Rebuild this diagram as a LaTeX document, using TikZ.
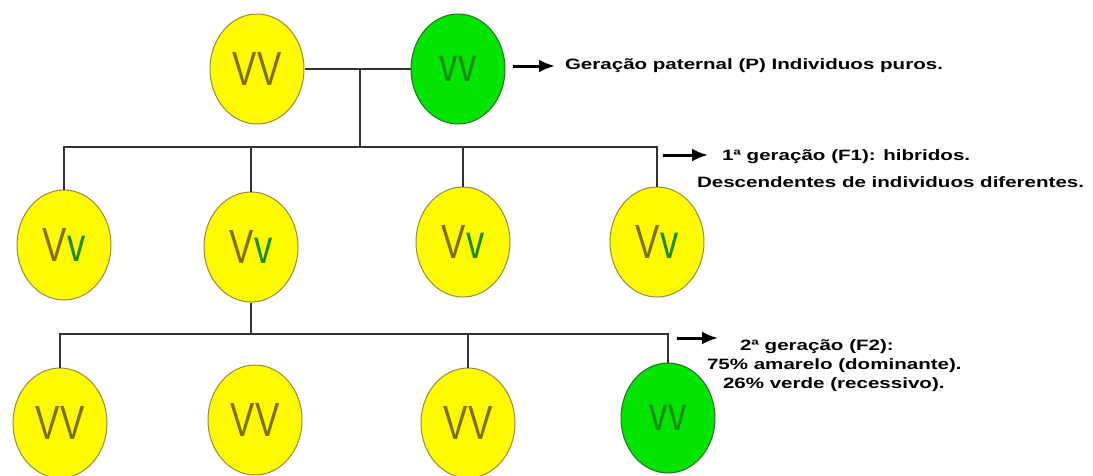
\documentclass[tikz,border=0pt]{standalone}
\usepackage{fontspec}
\usepackage{graphicx}
\setmainfont{Liberation Sans}
\usetikzlibrary{shapes.geometric,arrows.meta}
\definecolor{amarelo}{RGB}{255,250,0}
\definecolor{verde}{RGB}{0,228,0}
\definecolor{oliva}{RGB}{125,110,0}
\definecolor{verdeesc}{RGB}{25,140,15}
\definecolor{bordaam}{RGB}{150,140,60}
\definecolor{bordave}{RGB}{40,110,40}
\newcommand{\alelo}[1]{\scalebox{0.76}[1]{\fontsize{48}{48}\selectfont #1}}
\newcommand{\legenda}[1]{\scalebox{1.37}[1]{\fontsize{15}{15}\selectfont\bfseries #1}}

\begin{document}
\begin{tikzpicture}[x=1pt,y=-1pt,
	am/.style={ellipse,draw=bordaam,fill=amarelo,line width=1pt,minimum width=94pt,minimum height=110pt,inner sep=0pt},
	ve/.style={am,draw=bordave,fill=verde},
	lig/.style={draw=black!80,line width=2pt},
	seta/.style={line width=3pt,-{Latex[length=16pt,width=13pt]}},
	txt/.style={anchor=west,inner sep=0pt,outer sep=0pt}]
	\useasboundingbox (0,0) rectangle (1093,475);
	\node[am] (P1) at (257,69) {\alelo{\color{oliva}VV}};
	\node[ve] (P2) at (458,69) {\alelo{\color{verdeesc}vv}};
	\node[am] (A1) at (64,245) {\alelo{\color{oliva}V\color{verdeesc}v}};
	\node[am] (A2) at (251,247) {\alelo{\color{oliva}V\color{verdeesc}v}};
	\node[am] (A3) at (463,242) {\alelo{\color{oliva}V\color{verdeesc}v}};
	\node[am] (A4) at (657,242) {\alelo{\color{oliva}V\color{verdeesc}v}};
	\node[am] (B1) at (60,423) {\alelo{\color{oliva}VV}};
	\node[am] (B2) at (255,420) {\alelo{\color{oliva}VV}};
	\node[am] (B3) at (468,423) {\alelo{\color{oliva}VV}};
	\node[ve] (B4) at (668,418) {\alelo{\color{verdeesc}vv}};
	\coordinate (J) at (360,69);
	\coordinate (L1) at (360,147);
	\coordinate (L2) at (251,334);
	\draw[lig] (P1.east) -- (P2.west);
	\draw[lig] (J) -- (L1);
	\draw[lig] (A1.north) |- (L1) -| (A4.north);
	\draw[lig] (A2.north) -- (A2.north |- L1);
	\draw[lig] (A3.north) -- (A3.north |- L1);
	\draw[lig] (A2.south) -- (L2);
	\draw[lig] (B1.north) |- (L2) -| (B4.north);
	\draw[lig] (B3.north) -- (B3.north |- L2);
	\node[txt] (tP) at (565,66) {\legenda{Geração paternal (P) Individuos puros.}};
	\node[txt] (t1) at (722,157) {\legenda{1ª geração (F1): hibridos.}};
	\node[txt] (t1b) at (697,182) {\legenda{Descendentes de individuos diferentes.}};
	\node[txt] (t2) at (740,347) {\legenda{2ª geração (F2):}};
	\node[txt] (t2b) at (707,366) {\legenda{75\% amarelo (dominante).}};
	\node[txt] (t2c) at (723,385) {\legenda{26\% verde (recessivo).}};
	\coordinate (sP) at (513,66);
	\coordinate (s1) at (663,155);
	\coordinate (s2) at (677,338);
	\draw[seta,shorten >=10pt] (sP) -- (tP.west);
	\draw[seta,shorten >=14pt] (s1) -- (s1 -| t1.west);
	\draw[seta,shorten >=22pt] (s2) -- (s2 -| t2.west);
\end{tikzpicture}
\end{document}
